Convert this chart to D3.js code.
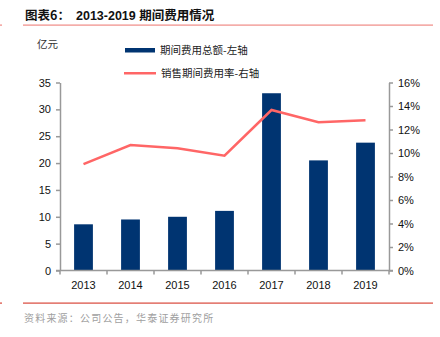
<!DOCTYPE html>
<html><head><meta charset="utf-8">
<script src="https://cdn.jsdelivr.net/npm/d3@7"></script>
<style>body{margin:0;background:#fff}svg{display:block}</style>
</head><body>
<script>
const years = ["2013","2014","2015","2016","2017","2018","2019"];
const totalExpense = [8.6, 9.5, 10.0, 11.1, 33.0, 20.5, 23.8];
const expenseRate = [9.06, 10.68, 10.40, 9.77, 13.66, 12.61, 12.78];
const leftTicks = [0,5,10,15,20,25,30,35];
const rightTicks = [0,2,4,6,8,10,12,14,16];

const W=440,H=337;
const svg=d3.select("body").append("svg").attr("width",W).attr("height",H);
const cjk='"Noto Sans CJK SC","Noto Sans",sans-serif';
const lat='"Liberation Sans",Arial,sans-serif';

// title
svg.append("text").attr("x",25).attr("y",20).attr("font-family",cjk).attr("font-weight","bold").attr("font-size",12.5).attr("fill","#111").text("图表6：");
const t2=svg.append("text").attr("x",76).attr("y",20).attr("font-weight","bold").attr("font-size",12.5).attr("fill","#111");
t2.append("tspan").attr("font-family",lat).text("2013-2019 ");
t2.append("tspan").attr("font-family",cjk).text("期间费用情况");
svg.append("rect").attr("x",23).attr("y",24.5).attr("width",410).attr("height",1.2).attr("fill","#f08a85");
svg.append("rect").attr("x",0).attr("y",24.5).attr("width",2).attr("height",1.2).attr("fill","#f08a85");
svg.append("rect").attr("x",23).attr("y",302.5).attr("width",410).attr("height",1.2).attr("fill","#d9483b");
svg.append("rect").attr("x",0).attr("y",302.5).attr("width",2).attr("height",1.2).attr("fill","#d9483b");

svg.append("text").attr("x",24).attr("y",322).attr("font-family",cjk).attr("font-size",10).attr("letter-spacing",1.2).attr("fill","#a0a0a0").text("资料来源：公司公告，华泰证券研究所");

svg.append("text").attr("x",37).attr("y",48).attr("font-family",cjk).attr("font-size",10.5).attr("fill","#333").text("亿元");

// legend
svg.append("rect").attr("x",125).attr("y",48).attr("width",30).attr("height",4.5).attr("fill","#003471");
svg.append("text").attr("x",160).attr("y",54).attr("font-family",cjk).attr("font-size",10.5).attr("fill","#222").text("期间费用总额-左轴");
svg.append("rect").attr("x",124).attr("y",72).attr("width",32).attr("height",2.5).attr("fill","#ff6666");
svg.append("text").attr("x",161).attr("y",77).attr("font-family",cjk).attr("font-size",10.5).attr("fill","#222").text("销售期间费用率-右轴");

const x0=60,x1=389,yTop=82.5,yBot=270.5;
const x=d3.scaleBand().domain(years).range([x0,x1]).paddingInner(0.6).paddingOuter(0.3);
const yL=d3.scaleLinear().domain([0,35]).range([yBot,yTop]);
const yR=d3.scaleLinear().domain([0,16]).range([yBot,yTop]);

// bars
svg.append("g").selectAll("rect").data(years).join("rect")
 .attr("x",d=>x(d)).attr("width",x.bandwidth())
 .attr("y",(d,i)=>yL(totalExpense[i])).attr("height",(d,i)=>yBot-yL(totalExpense[i]))
 .attr("fill","#003471");

// line
const line=d3.line().x((d,i)=>x(years[i])+x.bandwidth()/2).y(d=>yR(d));
svg.append("path").datum(expenseRate).attr("d",line).attr("fill","none").attr("stroke","#ff6666").attr("stroke-width",2.5);

const axisColor="#999";
function style(g){g.selectAll("path,line").attr("stroke",axisColor).attr("stroke-width",1.5);g.selectAll("text").attr("font-family",lat).attr("font-size",11).attr("fill","#111");}

svg.append("g").attr("transform",`translate(${x0},0)`).call(d3.axisLeft(yL).tickValues(leftTicks).tickSize(4).tickSizeOuter(0).tickPadding(5)).call(style);
svg.append("g").attr("transform",`translate(${x1},0)`).call(d3.axisRight(yR).tickValues(rightTicks).tickFormat(d=>d+"%").tickSize(4).tickSizeOuter(0).tickPadding(5)).call(style);

// x axis with ticks at band boundaries
const xg=svg.append("g").attr("transform",`translate(0,${yBot})`);
xg.append("line").attr("x1",x0-4).attr("x2",x1+4).attr("y1",0).attr("y2",0).attr("stroke",axisColor).attr("stroke-width",1.5);
const bounds=d3.range(years.length+1).map(i=>x0+i*(x1-x0)/years.length);
xg.selectAll("line.t").data(bounds).join("line").attr("class","t").attr("x1",d=>d).attr("x2",d=>d).attr("y1",0).attr("y2",4).attr("stroke",axisColor).attr("stroke-width",1.5);
xg.selectAll("text").data(years).join("text").attr("x",d=>x(d)+x.bandwidth()/2).attr("y",18).attr("text-anchor","middle").attr("font-family",lat).attr("font-size",11).attr("fill","#111").text(d=>d);
</script>
</body></html>
